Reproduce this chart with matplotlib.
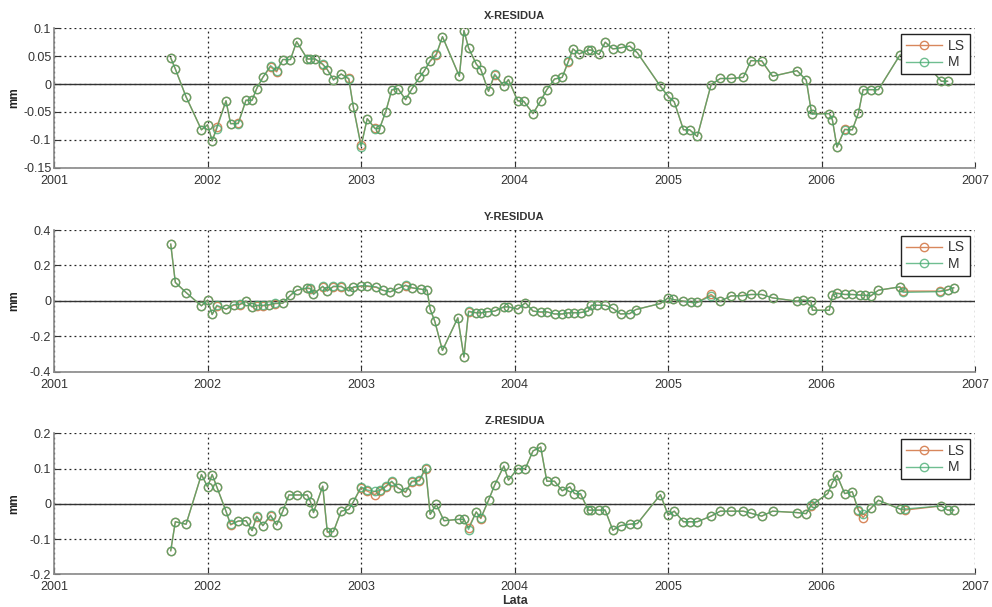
import matplotlib
matplotlib.use("Agg")
import matplotlib.pyplot as plt
import matplotlib.ticker as ticker

plt.rcParams["font.family"] = ["Liberation Sans", "DejaVu Sans"]

# X-RESIDUA
t_x = [2001.76, 2001.79, 2001.86, 2001.96, 2002.00, 2002.03, 2002.06, 2002.12, 2002.15, 2002.20,
       2002.25, 2002.29, 2002.32, 2002.36, 2002.41, 2002.45, 2002.49, 2002.54, 2002.58, 2002.65,
       2002.67, 2002.70, 2002.75, 2002.78, 2002.82, 2002.87, 2002.92, 2002.95, 2003.00, 2003.04,
       2003.09, 2003.12, 2003.16, 2003.20, 2003.24, 2003.29, 2003.33, 2003.38, 2003.41, 2003.45,
       2003.49, 2003.53, 2003.64, 2003.67, 2003.70, 2003.75, 2003.78, 2003.83, 2003.87, 2003.93,
       2003.96, 2004.02, 2004.06, 2004.12, 2004.17, 2004.21, 2004.26, 2004.31, 2004.35, 2004.38,
       2004.42, 2004.48, 2004.50, 2004.55, 2004.59, 2004.64, 2004.69, 2004.75, 2004.80, 2004.95,
       2005.00, 2005.04, 2005.10, 2005.14, 2005.19, 2005.28, 2005.34, 2005.41, 2005.49, 2005.54,
       2005.61, 2005.68, 2005.84, 2005.90, 2005.93, 2005.94, 2006.05, 2006.07, 2006.10, 2006.15,
       2006.20, 2006.24, 2006.27, 2006.32, 2006.37, 2006.51, 2006.60, 2006.70, 2006.78, 2006.82]
x_ls = [0.047, 0.027, -0.023, -0.082, -0.073, -0.102, -0.077, -0.030, -0.071, -0.070,
        -0.029, -0.029, -0.008, 0.012, 0.031, 0.022, 0.044, 0.044, 0.076, 0.045,
        0.045, 0.045, 0.035, 0.026, 0.008, 0.018, 0.010, -0.042, -0.110, -0.062,
        -0.079, -0.080, -0.050, -0.011, -0.008, -0.028, -0.009, 0.012, 0.023, 0.041,
        0.052, 0.085, 0.014, 0.096, 0.065, 0.036, 0.026, -0.013, 0.016, -0.003,
        0.008, -0.030, -0.031, -0.053, -0.030, -0.010, 0.009, 0.012, 0.040, 0.063,
        0.054, 0.061, 0.061, 0.053, 0.075, 0.063, 0.065, 0.068, 0.056, -0.004,
        -0.022, -0.032, -0.082, -0.082, -0.094, -0.001, 0.010, 0.010, 0.012, 0.042,
        0.041, 0.014, 0.024, 0.007, -0.044, -0.053, -0.053, -0.064, -0.113, -0.081,
        -0.082, -0.052, -0.010, -0.010, -0.010, 0.052, 0.050, 0.030, 0.005, 0.005]
x_m = [0.047, 0.027, -0.023, -0.082, -0.073, -0.102, -0.080, -0.030, -0.071, -0.071,
       -0.029, -0.029, -0.008, 0.012, 0.033, 0.024, 0.044, 0.044, 0.076, 0.045,
       0.045, 0.045, 0.036, 0.026, 0.007, 0.018, 0.009, -0.042, -0.112, -0.062,
       -0.080, -0.080, -0.050, -0.010, -0.008, -0.028, -0.009, 0.012, 0.023, 0.042,
       0.054, 0.085, 0.014, 0.096, 0.065, 0.036, 0.026, -0.013, 0.018, -0.003,
       0.008, -0.030, -0.031, -0.053, -0.030, -0.010, 0.009, 0.012, 0.041, 0.063,
       0.054, 0.061, 0.061, 0.053, 0.075, 0.063, 0.065, 0.068, 0.056, -0.004,
       -0.022, -0.032, -0.082, -0.082, -0.094, -0.001, 0.010, 0.010, 0.012, 0.042,
       0.042, 0.014, 0.024, 0.007, -0.045, -0.054, -0.053, -0.064, -0.113, -0.082,
       -0.082, -0.052, -0.010, -0.010, -0.010, 0.052, 0.050, 0.030, 0.005, 0.005]

# Y-RESIDUA
t_y = [2001.76, 2001.79, 2001.86, 2001.96, 2002.00, 2002.03, 2002.06, 2002.12, 2002.17, 2002.21,
       2002.25, 2002.29, 2002.32, 2002.36, 2002.40, 2002.44, 2002.49, 2002.54, 2002.58, 2002.65,
       2002.67, 2002.69, 2002.75, 2002.78, 2002.82, 2002.87, 2002.92, 2002.95, 2003.00, 2003.04,
       2003.10, 2003.14, 2003.19, 2003.24, 2003.29, 2003.33, 2003.39, 2003.43, 2003.45, 2003.48,
       2003.53, 2003.63, 2003.67, 2003.70, 2003.75, 2003.78, 2003.82, 2003.87, 2003.93, 2003.96,
       2004.02, 2004.07, 2004.12, 2004.17, 2004.21, 2004.26, 2004.31, 2004.35, 2004.39, 2004.43,
       2004.48, 2004.50, 2004.54, 2004.59, 2004.64, 2004.69, 2004.75, 2004.79, 2004.95, 2005.00,
       2005.03, 2005.10, 2005.15, 2005.19, 2005.28, 2005.34, 2005.41, 2005.48, 2005.54, 2005.61,
       2005.68, 2005.84, 2005.88, 2005.93, 2005.94, 2006.05, 2006.07, 2006.10, 2006.15, 2006.20,
       2006.25, 2006.28, 2006.32, 2006.37, 2006.51, 2006.53, 2006.77, 2006.82, 2006.86]
y_ls = [0.320, 0.104, 0.047, -0.028, 0.004, -0.077, -0.030, -0.047, -0.024, -0.022,
        -0.002, -0.034, -0.027, -0.028, -0.024, -0.016, -0.013, 0.032, 0.060, 0.070,
        0.068, 0.040, 0.080, 0.058, 0.080, 0.080, 0.058, 0.076, 0.082, 0.082,
        0.076, 0.060, 0.051, 0.070, 0.086, 0.074, 0.066, 0.060, -0.047, -0.115,
        -0.280, -0.096, -0.317, -0.062, -0.066, -0.068, -0.062, -0.058, -0.034, -0.034,
        -0.047, -0.011, -0.058, -0.064, -0.062, -0.074, -0.074, -0.068, -0.066, -0.066,
        -0.058, -0.025, -0.025, -0.025, -0.043, -0.074, -0.072, -0.049, -0.015, 0.017,
        0.008, -0.002, -0.009, -0.009, 0.036, -0.002, 0.028, 0.030, 0.036, 0.036,
        0.017, -0.002, 0.004, 0.000, -0.053, -0.053, 0.034, 0.044, 0.036, 0.036,
        0.034, 0.032, 0.028, 0.060, 0.079, 0.055, 0.055, 0.062, 0.074]
y_m = [0.320, 0.104, 0.047, -0.028, 0.004, -0.077, -0.025, -0.047, -0.021, -0.019,
       -0.002, -0.034, -0.025, -0.025, -0.021, -0.013, -0.013, 0.032, 0.060, 0.074,
       0.070, 0.036, 0.083, 0.055, 0.083, 0.083, 0.055, 0.079, 0.085, 0.085,
       0.079, 0.060, 0.051, 0.070, 0.089, 0.074, 0.066, 0.060, -0.047, -0.115,
       -0.280, -0.096, -0.317, -0.058, -0.068, -0.068, -0.062, -0.058, -0.034, -0.034,
       -0.047, -0.011, -0.058, -0.062, -0.062, -0.074, -0.074, -0.068, -0.068, -0.066,
       -0.058, -0.025, -0.025, -0.025, -0.043, -0.074, -0.072, -0.049, -0.015, 0.017,
       0.008, -0.002, -0.009, -0.009, 0.028, -0.002, 0.028, 0.028, 0.036, 0.036,
       0.017, -0.002, 0.004, 0.000, -0.053, -0.053, 0.032, 0.042, 0.036, 0.036,
       0.032, 0.032, 0.028, 0.060, 0.079, 0.048, 0.052, 0.060, 0.074]

# Z-RESIDUA
t_z = [2001.76, 2001.79, 2001.86, 2001.96, 2002.00, 2002.03, 2002.06, 2002.12, 2002.15, 2002.20,
       2002.25, 2002.29, 2002.32, 2002.36, 2002.41, 2002.45, 2002.49, 2002.53, 2002.58, 2002.65,
       2002.67, 2002.69, 2002.75, 2002.78, 2002.82, 2002.87, 2002.92, 2002.95, 2003.00, 2003.04,
       2003.09, 2003.12, 2003.16, 2003.20, 2003.24, 2003.29, 2003.33, 2003.38, 2003.42, 2003.45,
       2003.49, 2003.54, 2003.64, 2003.67, 2003.70, 2003.75, 2003.78, 2003.83, 2003.87, 2003.93,
       2003.96, 2004.02, 2004.07, 2004.12, 2004.17, 2004.21, 2004.26, 2004.31, 2004.36, 2004.39,
       2004.43, 2004.48, 2004.50, 2004.55, 2004.59, 2004.64, 2004.69, 2004.75, 2004.80, 2004.95,
       2005.00, 2005.04, 2005.10, 2005.14, 2005.19, 2005.28, 2005.34, 2005.41, 2005.49, 2005.54,
       2005.61, 2005.68, 2005.84, 2005.90, 2005.93, 2005.95, 2006.04, 2006.07, 2006.10, 2006.15,
       2006.20, 2006.24, 2006.27, 2006.32, 2006.37, 2006.51, 2006.54, 2006.78, 2006.82, 2006.86]
z_ls = [-0.133, -0.051, -0.058, 0.083, 0.048, 0.083, 0.048, -0.021, -0.060, -0.049,
        -0.048, -0.076, -0.037, -0.062, -0.034, -0.060, -0.021, 0.025, 0.025, 0.025,
        0.006, -0.025, 0.050, -0.081, -0.079, -0.021, -0.016, 0.006, 0.046, 0.036,
        0.026, 0.036, 0.048, 0.062, 0.045, 0.032, 0.062, 0.065, 0.100, -0.030,
        -0.002, -0.048, -0.044, -0.044, -0.068, -0.023, -0.042, 0.010, 0.053, 0.107,
        0.067, 0.100, 0.100, 0.150, 0.161, 0.064, 0.064, 0.037, 0.048, 0.029,
        0.027, -0.018, -0.018, -0.018, -0.018, -0.075, -0.062, -0.058, -0.056, 0.026,
        -0.032, -0.021, -0.051, -0.051, -0.051, -0.035, -0.021, -0.021, -0.021, -0.027,
        -0.035, -0.021, -0.025, -0.028, -0.006, 0.001, 0.029, 0.060, 0.081, 0.029,
        0.034, -0.020, -0.039, -0.013, 0.010, -0.015, -0.018, -0.006, -0.018, -0.018]
z_m = [-0.133, -0.051, -0.058, 0.083, 0.048, 0.083, 0.048, -0.021, -0.058, -0.049,
       -0.048, -0.076, -0.035, -0.062, -0.032, -0.060, -0.021, 0.025, 0.025, 0.025,
       0.006, -0.025, 0.050, -0.079, -0.079, -0.021, -0.016, 0.006, 0.048, 0.039,
       0.035, 0.039, 0.050, 0.064, 0.045, 0.034, 0.064, 0.067, 0.102, -0.030,
       -0.002, -0.048, -0.044, -0.044, -0.073, -0.023, -0.040, 0.010, 0.053, 0.107,
       0.067, 0.100, 0.100, 0.150, 0.161, 0.064, 0.064, 0.037, 0.048, 0.029,
       0.029, -0.018, -0.018, -0.018, -0.018, -0.075, -0.062, -0.058, -0.056, 0.026,
       -0.032, -0.021, -0.051, -0.051, -0.051, -0.035, -0.021, -0.021, -0.021, -0.027,
       -0.035, -0.021, -0.025, -0.028, -0.004, 0.001, 0.029, 0.060, 0.081, 0.029,
       0.034, -0.018, -0.030, -0.013, 0.010, -0.015, -0.015, -0.006, -0.018, -0.018]

titles = ["X-RESIDUA", "Y-RESIDUA", "Z-RESIDUA"]
y_limits = [(-0.15, 0.1), (-0.4, 0.4), (-0.2, 0.2)]
y_steps = [0.05, 0.2, 0.1]
year_ticks = [2001, 2002, 2003, 2004, 2005, 2006, 2007]

ls_color = "#d8875c"
m_color = "#3fa86c"

fig = plt.figure(figsize=(9.92, 6.07), dpi=100)
positions = [
    [0.0545, 0.7237, 0.9285, 0.2297],
    [0.0545, 0.3877, 0.9285, 0.2333],
    [0.0545, 0.0539, 0.9285, 0.2323],
]
series = [(t_x, x_ls, x_m), (t_y, y_ls, y_m), (t_z, z_ls, z_m)]

for i, (t, ls_vals, m_vals) in enumerate(series):
    ax = fig.add_axes(positions[i])
    ax.plot(t, ls_vals, color=ls_color, marker="o", markerfacecolor="none",
            markersize=6, markeredgewidth=1.0, linewidth=1.0, label="LS")
    ax.plot(t, m_vals, color=m_color, marker="o", markerfacecolor="none",
            markersize=6, markeredgewidth=1.0, linewidth=1.0, alpha=0.75, label="M")
    ax.axhline(0, color="#333333", linewidth=1.0, zorder=1)

    ax.set_xlim(2001, 2007)
    ax.set_ylim(*y_limits[i])
    ax.set_xticks(year_ticks)
    ax.yaxis.set_major_locator(ticker.MultipleLocator(y_steps[i]))
    ax.yaxis.set_major_formatter(ticker.FuncFormatter(lambda v, p: f"{round(v, 3):g}"))
    ax.grid(True, linestyle=(0, (1.5, 2.5)), color="#222222", linewidth=0.9)
    ax.set_axisbelow(True)

    ax.tick_params(direction="in", length=4, labelsize=9, colors="#333333",
                   top=False, right=False)
    ax.tick_params(axis="y", pad=2)
    ax.tick_params(axis="x", pad=5)
    ax.spines["top"].set_visible(False)
    ax.spines["right"].set_visible(False)
    ax.spines["left"].set_color("#888888")
    ax.spines["bottom"].set_color("#888888")
    ax.spines["left"].set_linewidth(1.2)
    ax.spines["bottom"].set_linewidth(1.2)

    ax.set_title(titles[i], fontsize=8, fontweight="bold", color="#333333", pad=7)
    ax.set_ylabel("mm", fontsize=8.5, fontweight="bold", color="#222222")
    ax.yaxis.set_label_coords(-0.037, 0.5)

    leg = ax.legend(loc="upper right", fontsize=10, fancybox=False, framealpha=1,
                    edgecolor="#222222", borderaxespad=0.4, handlelength=2.6,
                    borderpad=0.35, labelspacing=0.2, handletextpad=0.4)
    leg.get_frame().set_linewidth(1.0)
    for txt in leg.get_texts():
        txt.set_color("#333333")

    if i == 2:
        ax.set_xlabel("Lata", fontsize=9, fontweight="bold", color="#333333", labelpad=1)

fig.savefig("out.png", dpi=100)
